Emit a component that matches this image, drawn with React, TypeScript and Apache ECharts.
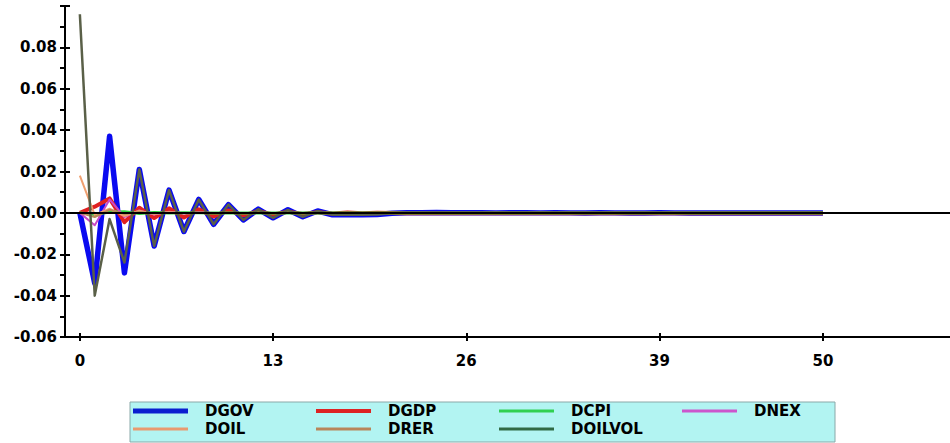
import React, { useEffect, useRef } from "react";
import * as echarts from "echarts";

const PERIODS = Array.from({ length: 51 }, (_, i) => i);
const X_TICKS = [0, 13, 26, 39, 50];

const DGOV = [
  0, -0.034, 0.037, -0.029, 0.021, -0.016, 0.011, -0.009, 0.0065, -0.0055,
  0.004, -0.0034, 0.0018, -0.0024, 0.0015, -0.0019, 0.0009, -0.0009, -0.0009, -0.0009,
  -0.0008, -0.0002, 0.0001, 0.0001, 0.0002, 0.0001, 0.0001, 0.0001, 0, 0.0001,
  0.0001, 0, 0.0001, 0, 0, 0.0001, 0, 0, 0, 0.0001,
  0, 0, 0, 0, 0, 0, 0, 0, 0, 0,
  0,
];
const DGDP = [
  0, 0.003, 0.007, -0.0045, 0.0025, -0.0025, 0.0022, -0.0022, 0.0017, -0.0017,
  0.0012, -0.0012, 0.0008, -0.0008, 0.0005, -0.0005, 0.0003, -0.0003, 0.0002, -0.0002,
  0.0001, -0.0001, -0.0002, -0.0002, -0.0002, -0.0002, -0.0002, -0.0002, -0.0002, -0.0002,
  -0.0002, -0.0002, -0.0002, -0.0002, -0.0002, -0.0002, -0.0002, -0.0002, -0.0002, -0.0002,
  -0.0002, -0.0002, -0.0002, -0.0002, -0.0002, -0.0002, -0.0002, -0.0002, -0.0002, -0.0002,
  -0.0002,
];
const DCPI = [
  0, -0.0008, 0.0004, 0.0006, -0.0003, 0.0002, -0.0001, 0.0001, 0, 0,
  0, 0, 0, 0, 0, 0, 0, 0, 0, 0,
  0, 0, 0, 0, 0, 0, 0, 0, 0, 0,
  0, 0, 0, 0, 0, 0, 0, 0, 0, 0,
  0, 0, 0, 0, 0, 0, 0, 0, 0, 0,
  0,
];
const DNEX = [
  0, -0.006, 0.0065, -0.002, 0.0012, -0.0008, 0.0005, -0.0003, 0.0002, -0.0001,
  0, 0, 0, 0, 0, 0, 0, 0, 0, 0,
  0, 0, 0, 0, 0, 0, 0, 0, 0, 0,
  0, 0, 0, 0, 0, 0, 0, 0, 0, 0,
  0, 0, 0, 0, 0, 0, 0, 0, 0, 0,
  0,
];
const DOIL = [
  0.018, -0.001, 0.002, -0.0015, 0.001, -0.0006, 0.0004, -0.0002, 0.0001, 0,
  0, 0, 0, 0, 0, 0, 0, 0, 0, 0,
  0, 0, 0, 0, 0, 0, 0, 0, 0, 0,
  0, 0, 0, 0, 0, 0, 0, 0, 0, 0,
  0, 0, 0, 0, 0, 0, 0, 0, 0, 0,
  0,
];
const DRER = [
  0, -0.002, 0.0015, -0.0005, 0.0004, -0.0002, 0.0001, 0, 0, 0,
  0, 0, 0, 0, 0, 0, 0, 0, 0, 0,
  0, 0, 0, 0, 0, 0, 0, 0, 0, 0,
  0, 0, 0, 0, 0, 0, 0, 0, 0, 0,
  0, 0, 0, 0, 0, 0, 0, 0, 0, 0,
  0,
];
const DOILVOL = [
  0.096, -0.04, -0.003, -0.024, 0.021, -0.016, 0.011, -0.009, 0.0064, -0.0055,
  0.004, -0.0034, 0.0018, -0.0024, 0.0015, -0.0019, 0.0009, -0.0009, -0.0009, -0.0009,
  -0.0008, -0.0002, 0.0001, 0.0001, 0.0002, 0.0001, 0.0001, 0.0001, 0, 0.0001,
  0.0001, 0, 0.0001, 0, 0, 0.0001, 0, 0, 0, 0.0001,
  0, 0, 0, 0, 0, 0, 0, 0, 0, 0,
  0,
];

const SERIES = [
  { name: "DGOV", values: DGOV, color: "#0a0af0", width: 5.5, legendColor: "#0a1ed0", legendWidth: 5 },
  { name: "DGDP", values: DGDP, color: "#e02020", width: 4, legendColor: "#dd2222", legendWidth: 4 },
  { name: "DCPI", values: DCPI, color: "#30d040", width: 3, legendColor: "#30d050", legendWidth: 3 },
  { name: "DNEX", values: DNEX, color: "#c848c8", width: 2, legendColor: "#cc55cc", legendWidth: 3 },
  { name: "DOIL", values: DOIL, color: "#f0a070", width: 2, legendColor: "#e89a70", legendWidth: 3 },
  { name: "DRER", values: DRER, color: "#b88a58", width: 2, legendColor: "#b8865a", legendWidth: 3 },
  { name: "DOILVOL", values: DOILVOL, color: "#5a6048", width: 2.5, legendColor: "#306a44", legendWidth: 3 },
];
const LEGEND_ROWS = [
  ["DGOV", "DGDP", "DCPI", "DNEX"],
  ["DOIL", "DRER", "DOILVOL"],
];

const FONT = "DejaVu Sans";

export default function App() {
  const ref = useRef<HTMLDivElement>(null);
  useEffect(() => {
    if (!ref.current) return;
    const chart = echarts.init(ref.current, null, { renderer: "svg" });
    const axisLine = { show: true, onZero: false, lineStyle: { color: "#000", width: 2 } };
    const labelStyle = { fontFamily: FONT, fontWeight: "bold" as const, fontSize: 15, color: "#000" };

    const legendEls: any[] = [
      {
        type: "rect",
        z: 0,
        shape: { x: 130, y: 402, width: 705, height: 40 },
        style: { fill: "#b2f4f2", stroke: "#8aa8a8", lineWidth: 1 },
      },
    ];
    LEGEND_ROWS.forEach((row, r) => {
      const cy = 411 + r * 18;
      row.forEach((name, c) => {
        const s = SERIES.find((q) => q.name === name)!;
        const x0 = 133 + c * 183;
        legendEls.push({
          type: "line",
          z: 1,
          shape: { x1: x0, y1: cy, x2: x0 + 55, y2: cy },
          style: { stroke: s.legendColor, lineWidth: s.legendWidth },
        });
        legendEls.push({
          type: "text",
          z: 1,
          x: x0 + 72,
          y: cy,
          style: {
            text: name,
            fill: "#000",
            font: `bold 15px "${FONT}"`,
            verticalAlign: "middle",
            align: "left",
          },
        });
      });
    });

    chart.setOption({
      animation: false,
      backgroundColor: "#fff",
      grid: { left: 65, right: 0, top: 6, bottom: 106 },
      graphic: legendEls,
      xAxis: [
        {
          type: "value",
          position: "bottom",
          min: -1,
          max: 58.55,
          axisLine,
          splitLine: { show: false },
          axisTick: { show: true, customValues: X_TICKS, length: 4, inside: false, lineStyle: { color: "#000", width: 2 } },
          axisLabel: { customValues: X_TICKS, margin: 16, ...labelStyle },
        },
        {
          type: "value",
          position: "bottom",
          min: -1,
          max: 58.55,
          axisLine: { show: false, onZero: false },
          splitLine: { show: false },
          axisTick: { show: true, customValues: X_TICKS, length: 4, inside: true, lineStyle: { color: "#000", width: 2 } },
          axisLabel: { show: false },
        },
      ],
      yAxis: [
        {
          type: "value",
          position: "left",
          min: -0.06,
          max: 0.1,
          interval: 0.02,
          axisLine,
          splitLine: { show: false },
          axisTick: { show: true, length: 5, lineStyle: { color: "#000", width: 2 } },
          minorTick: { show: true, splitNumber: 2, length: 5, lineStyle: { color: "#000", width: 2 } },
          axisLabel: {
            margin: 8,
            ...labelStyle,
            formatter: (v: number) => (v > 0.099 ? "" : v.toFixed(2)),
          },
        },
        {
          type: "value",
          position: "left",
          min: -0.06,
          max: 0.1,
          interval: 0.02,
          axisLine: { show: false, onZero: false },
          splitLine: { show: false },
          axisTick: { show: true, inside: true, length: 5, lineStyle: { color: "#000", width: 2 } },
          minorTick: { show: false },
          axisLabel: { show: false },
        },
      ],
      series: SERIES.map((s, idx) => ({
        name: s.name,
        type: "line",
        xAxisIndex: 0,
        yAxisIndex: 0,
        data: s.values.map((v, i) => [PERIODS[i], v]),
        showSymbol: false,
        symbol: "none",
        color: s.color,
        lineStyle: { color: s.color, width: s.width, join: "round" },
        z: 2 + idx * 0.01,
        ...(idx === SERIES.length - 1
          ? {
              markLine: {
                silent: true,
                symbol: "none",
                label: { show: false },
                lineStyle: { color: "#000", width: 2, type: "solid" },
                data: [{ yAxis: 0 }],
              },
            }
          : {}),
      })),
    } as any);
    return () => chart.dispose();
  }, []);
  return (
    <div
      ref={ref}
      style={{ position: "absolute", left: 0, top: 0, width: 950, height: 443 }}
    />
  );
}
